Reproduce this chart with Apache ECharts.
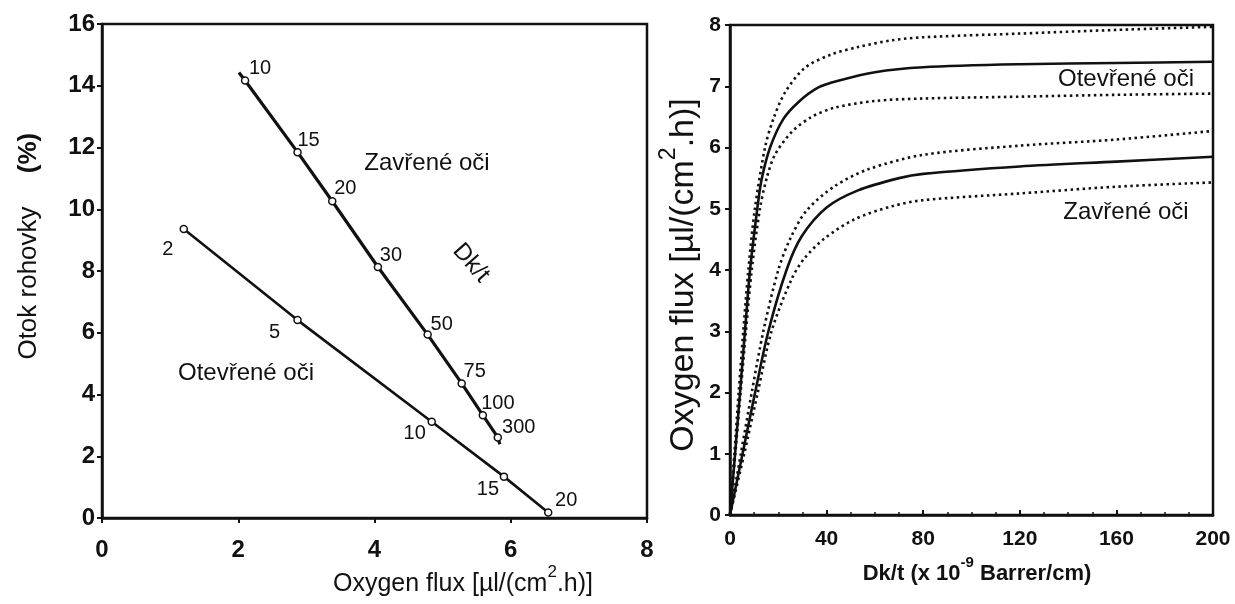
<!DOCTYPE html>
<html>
<head>
<meta charset="utf-8">
<script src="https://cdn.jsdelivr.net/npm/echarts@6/dist/echarts.min.js"></script>
<style>
  html, body { margin: 0; padding: 0; background: #fff; }
  #chart { width: 1235px; height: 604px; }
</style>
</head>
<body>
<div id="chart"></div>
<script>
// ---------- left panel: corneal swelling vs oxygen flux ----------
// closed eyes (Dk/t marked next to each point)
const closedDk = ['10', '15', '20', '30', '50', '75', '100', '300'];
const closedFlux = [2.10, 2.87, 3.38, 4.05, 4.78, 5.28, 5.59, 5.81];
const closedSwell = [14.17, 11.85, 10.26, 8.13, 5.94, 4.36, 3.33, 2.61];
// the fitted line runs a little past the first and last point
const closedLineStart = [2.01, 14.43];
const closedLineEnd = [5.84, 2.39];

// open eyes
const openDk = ['2', '5', '10', '15', '20'];
const openFlux = [1.20, 2.87, 4.84, 5.90, 6.55];
const openSwell = [9.36, 6.41, 3.12, 1.34, 0.18];

const leftXTicks = [0, 2, 4, 6, 8];
const leftYTicks = [0, 2, 4, 6, 8, 10, 12, 14, 16];

// ---------- right panel: oxygen flux vs Dk/t ----------
const openMidX = [0, 2.1, 4.15, 6.2, 8.3, 11.3, 13.1, 16.6, 22, 28.3, 36.6, 44.8, 60, 80, 120, 160, 200];
const openMidY = [0, 1, 2, 3, 4, 5, 5.48, 6, 6.46, 6.74, 6.98, 7.09, 7.23, 7.31, 7.36, 7.38, 7.40];
const openHighX = [0, 1.8, 3.6, 5.5, 7.6, 10.3, 14.5, 17.9, 22.8, 31, 42, 53, 67, 80, 120, 160, 200];
const openHighY = [0, 1, 2, 3, 4, 5, 6, 6.46, 6.9, 7.3, 7.52, 7.64, 7.75, 7.8, 7.86, 7.92, 7.97];
const openLowX = [0, 2.2, 4.4, 6.6, 9.0, 12.4, 15.2, 18.6, 25.5, 33.8, 43.4, 60, 80, 120, 160, 200];
const openLowY = [0, 1, 2, 3, 4, 5, 5.5, 5.88, 6.25, 6.5, 6.65, 6.76, 6.80, 6.83, 6.86, 6.88];

const closedMidX = [0, 5.2, 10.4, 15.9, 23.4, 29.7, 40, 53, 70, 80, 120, 160, 200];
const closedMidY = [0, 1, 2, 3, 4, 4.55, 5.02, 5.3, 5.50, 5.57, 5.69, 5.77, 5.85];
const closedHighX = [0, 4.5, 9.0, 13.8, 20, 24.8, 31.7, 43.4, 57, 80, 120, 160, 200];
const closedHighY = [0, 1, 2, 3, 4, 4.5, 4.97, 5.37, 5.64, 5.88, 6.03, 6.13, 6.27];
const closedLowX = [0, 5.9, 11.5, 17.2, 25.5, 31, 39.3, 51.7, 67, 80, 120, 160, 200];
const closedLowY = [0, 1, 2, 3, 3.85, 4.2, 4.52, 4.83, 5.04, 5.14, 5.25, 5.36, 5.43];

const rightXTicks = [0, 40, 80, 120, 160, 200];
const rightYTicks = [0, 1, 2, 3, 4, 5, 6, 7, 8];

// label offsets (px) for the point numbers, relative to the marker centre
const closedLabelOffset = [[15, -12], [11, -12], [13, -13], [13, -12], [14, -10], [13, -12], [15, -12], [21, -10]];
const openLabelOffset = [[-16, 20], [-23, 12], [-17, 12], [-16, 13], [18, -12]];

const INK = '#111';
const FONT = '"Liberation Sans", Arial, sans-serif';

function zip(xs, ys) {
  return xs.map((x, i) => [x, ys[i]]);
}

function pointData(xs, ys, names, offsets) {
  return xs.map((x, i) => ({
    value: [x, ys[i]],
    label: {
      show: true,
      position: 'inside',
      offset: offsets[i],
      formatter: names[i],
      color: INK,
      fontFamily: FONT,
      fontSize: 20
    }
  }));
}

const chart = echarts.init(document.getElementById('chart'));

// closed-eye points with line extension at both ends
const closedData = [{value: closedLineStart, symbol: 'none', label: {show: false}}]
  .concat(pointData(closedFlux, closedSwell, closedDk, closedLabelOffset))
  .concat([{value: closedLineEnd, symbol: 'none', label: {show: false}}]);

const openData = pointData(openFlux, openSwell, openDk, openLabelOffset);

function axisCommon(tickInside, labelSize, margin) {
  return {
    axisLine: {show: true, onZero: false, lineStyle: {color: INK, width: 2.5}},
    axisTick: {show: true, inside: tickInside, length: 5, lineStyle: {color: INK, width: 2}},
    axisLabel: {color: INK, fontFamily: FONT, fontWeight: 'bold', fontSize: labelSize, margin: margin},
    splitLine: {show: false}
  };
}

const markerStyle = {color: '#fff', borderColor: INK, borderWidth: 1.5};

function curve(xs, ys, dotted) {
  return {
    type: 'line',
    xAxisIndex: 1,
    yAxisIndex: 1,
    data: zip(xs, ys),
    symbol: 'none',
    smooth: 0.3,
    lineStyle: dotted
      ? {color: INK, width: 2.6, type: [2.5, 3.5]}
      : {color: INK, width: 2.6},
    silent: true
  };
}

// rich text styles for the superscripts in the axis titles
function titleRich(size, weight) {
  const drop = Math.round(size * 0.3);
  return {
    n: {font: weight + ' ' + size + 'px ' + FONT, fill: INK, padding: [drop, 0, 0, 0]},
    s: {font: weight + ' ' + Math.round(size * 0.68) + 'px ' + FONT, fill: INK, verticalAlign: 'top'}
  };
}

let option = {
  animation: false,
  backgroundColor: '#fff',
  grid: [
    {left: 102, top: 24, width: 545, height: 494, show: true, borderColor: INK, borderWidth: 2.5},
    {left: 730, top: 25, width: 483, height: 490, show: true, borderColor: INK, borderWidth: 2.5}
  ],
  xAxis: [
    Object.assign({
      type: 'value', gridIndex: 0,
      min: leftXTicks[0], max: leftXTicks[leftXTicks.length - 1], interval: 2
    }, axisCommon(false, 24, 20)),
    Object.assign({
      type: 'value', gridIndex: 1,
      min: rightXTicks[0], max: rightXTicks[rightXTicks.length - 1], interval: 40,
      minorTick: {show: true, splitNumber: 4, length: 3, lineStyle: {color: INK, width: 1.5}}
    }, axisCommon(true, 21, 14))
  ],
  yAxis: [
    Object.assign({
      type: 'value', gridIndex: 0,
      min: leftYTicks[0], max: leftYTicks[leftYTicks.length - 1], interval: 2
    }, axisCommon(false, 24, 7)),
    Object.assign({
      type: 'value', gridIndex: 1,
      min: rightYTicks[0], max: rightYTicks[rightYTicks.length - 1], interval: 1
    }, axisCommon(false, 21, 9))
  ],
  series: [
    {
      type: 'line', name: 'Zavřené oči',
      xAxisIndex: 0, yAxisIndex: 0,
      data: closedData,
      symbol: 'circle', symbolSize: 7,
      itemStyle: markerStyle,
      lineStyle: {color: INK, width: 3.2}
    },
    {
      type: 'line', name: 'Otevřené oči',
      xAxisIndex: 0, yAxisIndex: 0,
      data: openData,
      symbol: 'circle', symbolSize: 7,
      itemStyle: markerStyle,
      lineStyle: {color: INK, width: 2.6}
    },
    curve(openHighX, openHighY, true),
    curve(openMidX, openMidY, false),
    curve(openLowX, openLowY, true),
    curve(closedHighX, closedHighY, true),
    curve(closedMidX, closedMidY, false),
    curve(closedLowX, closedLowY, true)
  ],
  graphic: [
    // left panel axis titles
    {type: 'text', x: 29, y: 283, rotation: Math.PI / 2,
      style: {text: 'Otok rohovky', font: '26px ' + FONT, fill: INK, align: 'center', verticalAlign: 'middle'}},
    {type: 'text', x: 29, y: 153, rotation: Math.PI / 2,
      style: {text: '(%)', font: 'bold 26px ' + FONT, fill: INK, align: 'center', verticalAlign: 'middle'}},
    {type: 'text', x: 463, y: 580,
      style: {text: '{n|Oxygen flux [µl/(cm}{s|2}{n|.h)]}', rich: titleRich(25, 'normal'),
        align: 'center', verticalAlign: 'middle'}},
    // left panel annotations
    {type: 'text', x: 427, y: 163,
      style: {text: 'Zavřené oči', font: '24px ' + FONT, fill: INK, align: 'center', verticalAlign: 'middle'}},
    {type: 'text', x: 246, y: 373,
      style: {text: 'Otevřené oči', font: '24px ' + FONT, fill: INK, align: 'center', verticalAlign: 'middle'}},
    {type: 'text', x: 471, y: 263, rotation: -0.85,
      style: {text: 'Dk/t', font: '24px ' + FONT, fill: INK, align: 'center', verticalAlign: 'middle'}},
    // right panel axis titles
    {type: 'text', x: 679, y: 275, rotation: Math.PI / 2,
      style: {text: '{n|Oxygen flux [µl/(cm}{s|2}{n|.h)]}', rich: titleRich(34, 'normal'),
        align: 'center', verticalAlign: 'middle'}},
    {type: 'text', x: 977, y: 570,
      style: {text: '{n|Dk/t (x 10}{s|-9}{n| Barrer/cm)}', rich: titleRich(22, 'bold'),
        align: 'center', verticalAlign: 'middle'}},
    // right panel annotations
    {type: 'text', x: 1126, y: 79,
      style: {text: 'Otevřené oči', font: '24px ' + FONT, fill: INK, align: 'center', verticalAlign: 'middle'}},
    {type: 'text', x: 1126, y: 212,
      style: {text: 'Zavřené oči', font: '24px ' + FONT, fill: INK, align: 'center', verticalAlign: 'middle'}}
  ]
};

chart.setOption(option);
window.addEventListener('resize', function () {
  chart.resize();
});
</script>
</body>
</html>
